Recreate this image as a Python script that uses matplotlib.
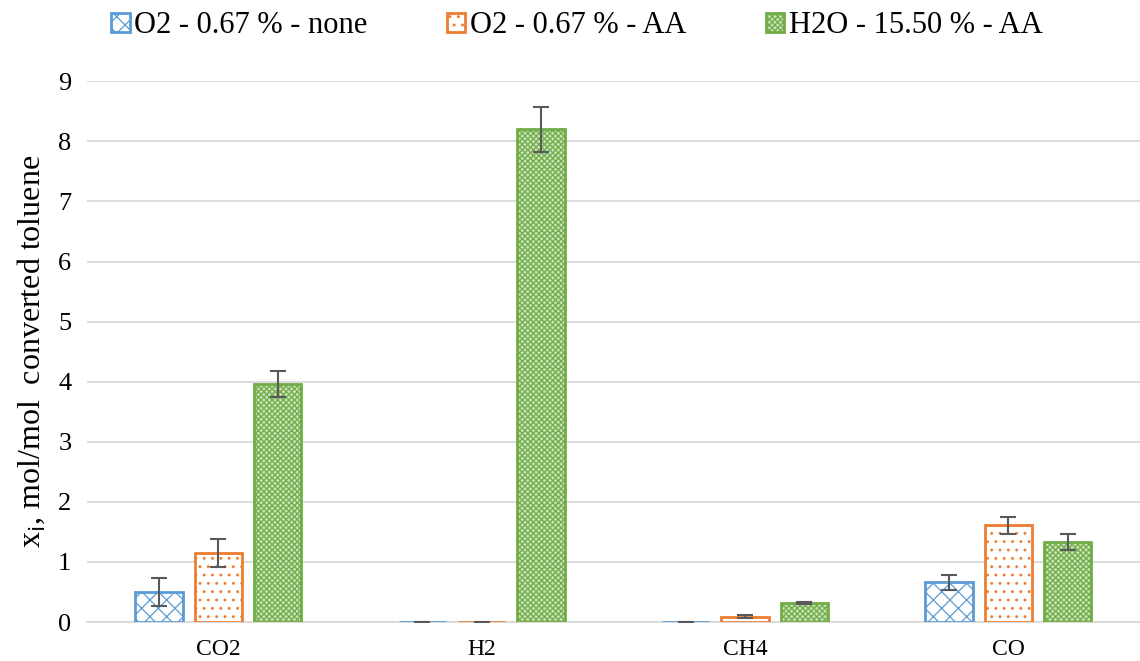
import numpy as np
import matplotlib.pyplot as plt

categories = ["CO2", "H2", "CH4", "CO"]
series_names = ["O2 - 0.67 % - none", "O2 - 0.67 % - AA", "H2O - 15.50 % - AA"]
o2_none = [0.50, 0.0, 0.0, 0.66]
o2_none_err = [0.23, 0.0, 0.0, 0.13]
o2_aa = [1.15, 0.0, 0.09, 1.61]
o2_aa_err = [0.23, 0.0, 0.02, 0.14]
h2o_aa = [3.96, 8.20, 0.32, 1.33]
h2o_aa_err = [0.22, 0.38, 0.02, 0.13]

plt.rcParams["font.family"] = ["Liberation Serif", "DejaVu Serif"]
plt.rcParams["hatch.linewidth"] = 0.9

fig = plt.figure(figsize=(11.4, 6.61), dpi=100)
ax = fig.add_axes([0.076, 0.059, 0.924, 0.818])

x = np.arange(len(categories))
width = 0.18
offset = 0.225
colors = ["#5B9BD5", "#ED7D31", "#70AD47"]
hatches = ["xx", "..", "xxxxxx"]
faces = ["white", "white", "#C8E0B8"]
values = [o2_none, o2_aa, h2o_aa]
errors = [o2_none_err, o2_aa_err, h2o_aa_err]

handles = []
for i in range(3):
    b = ax.bar(x + (i - 1) * offset, values[i], width, facecolor=faces[i],
               edgecolor=colors[i], hatch=hatches[i], linewidth=2,
               label=series_names[i], zorder=3)
    ax.errorbar(x + (i - 1) * offset, values[i], yerr=errors[i], fmt="none",
                ecolor="#595959", elinewidth=1.5, capsize=6, capthick=1.5, zorder=4)
    handles.append(b)

ax.set_xlim(-0.5, 3.5)
ax.set_ylim(0, 9)
ax.set_yticks(range(0, 10))
ax.set_xticks(x)
ax.set_xticklabels(categories, fontsize=17)
ax.tick_params(axis="y", labelsize=19, length=0, pad=11)
ax.tick_params(axis="x", length=0, pad=12)
ax.grid(axis="y", color="#D9D9D9", linewidth=1.3, zorder=0)
for s in ["top", "right", "left"]:
    ax.spines[s].set_visible(False)
ax.spines["bottom"].set_color("#D9D9D9")
ax.spines["bottom"].set_linewidth(1.3)
ax.set_ylabel("x$_\\mathrm{i}$, mol/mol  converted toluene", fontsize=23, labelpad=8)

fig.legend(handles=handles, loc="upper center", bbox_to_anchor=(0.506, 1.025), ncol=3,
           frameon=False, fontsize=22, handlelength=0.6, handleheight=0.6,
           handletextpad=0.15, columnspacing=2.6)

fig.savefig("out.png", dpi=100)
